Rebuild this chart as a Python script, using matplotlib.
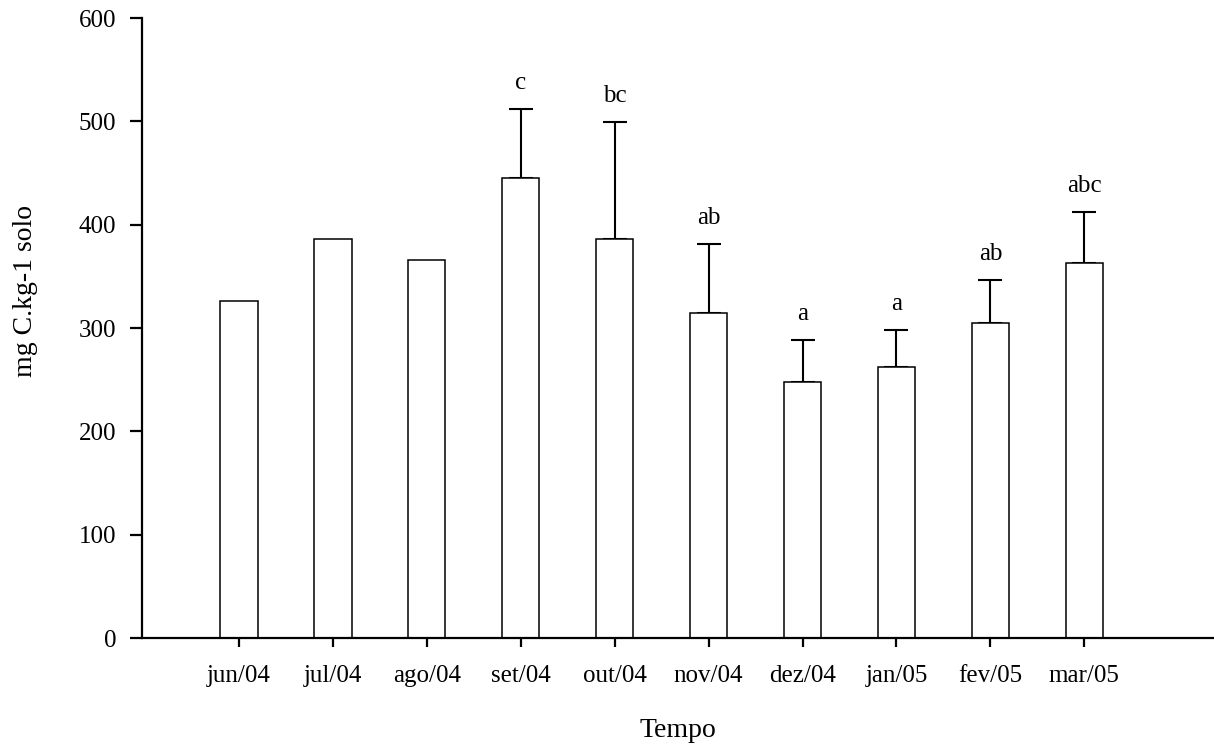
import numpy as np
import matplotlib
matplotlib.use("Agg")
import matplotlib.pyplot as plt

# dados
meses = ['jun/04', 'jul/04', 'ago/04', 'set/04', 'out/04',
         'nov/04', 'dez/04', 'jan/05', 'fev/05', 'mar/05']
valores = [326, 386, 366, 445, 386, 315, 248, 262, 305, 363]
erros = [np.nan, np.nan, np.nan, 67, 113, 66, 40, 36, 41, 49]
letras = ['', '', '', 'c', 'bc', 'ab', 'a', 'a', 'ab', 'abc']

plt.rcParams['font.family'] = ['Liberation Serif', 'DejaVu Serif']

fig = plt.figure(figsize=(12.14, 7.45), dpi=100)
ax = fig.add_axes([0.117, 0.1436, 0.883, 0.8322])

x = np.arange(len(meses))
v = np.array(valores, dtype=float)
e = np.array(erros, dtype=float)
tem = ~np.isnan(e)

ax.bar(x, v, width=0.4, color='white', edgecolor='black', linewidth=1.1, zorder=2)
# só a parte de cima do erro (o cap de baixo fica escondido na borda da barra)
ax.errorbar(x[tem], v[tem], yerr=[np.zeros(tem.sum()), e[tem]], fmt='none',
            ecolor='black', elinewidth=1.5, capsize=8.5, capthick=1.5, zorder=1)

# letras de significância acima das barras de erro
for xi, vi, ei, l in zip(x, v, e, letras):
    if l:
        ax.annotate(l, (xi, vi + ei), xytext=(0, 14.5), textcoords='offset points',
                    ha='center', va='baseline', fontsize=18)

ax.set_xlim(-1.03, 10.38)
ax.set_ylim(0, 600)
ax.set_yticks([0, 100, 200, 300, 400, 500, 600])
ax.set_xticks(x)
ax.set_xticklabels(meses)

for s in ['top', 'right']:
    ax.spines[s].set_visible(False)
for s in ['left', 'bottom']:
    ax.spines[s].set_linewidth(1.6)

ax.tick_params(axis='y', direction='out', length=8.5, width=1.6, pad=10, labelsize=18)
ax.tick_params(axis='x', direction='out', length=6.5, width=1.6, pad=13, labelsize=18)

ax.set_xlabel('Tempo', fontsize=20, labelpad=22)
ax.set_ylabel('mg C.kg-1 solo', fontsize=20)
ax.yaxis.set_label_coords(-0.0975, 0.56)

fig.savefig('out.png', dpi=100)
